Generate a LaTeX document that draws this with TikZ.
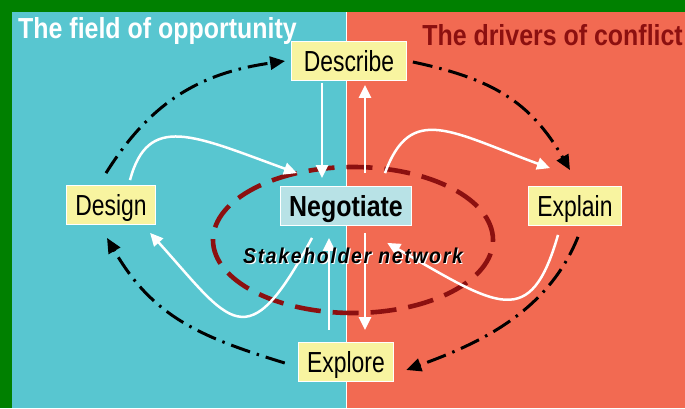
\documentclass[tikz,border=0pt]{standalone}
\usepackage{fontspec}
\setmainfont{Liberation Sans}
\newfontfamily\narrowfont{Liberation Sans}[FakeStretch=0.79]
\newfontfamily\headfont{Liberation Sans}[FakeStretch=0.86]
\newfontfamily\netfont{Liberation Sans}[FakeStretch=0.9, LetterSpace=8]
\usetikzlibrary{arrows.meta}
\definecolor{fieldbg}{RGB}{88,198,208}
\definecolor{conflictbg}{RGB}{242,106,82}
\definecolor{framegreen}{RGB}{0,128,0}
\definecolor{stepfill}{RGB}{248,244,160}
\definecolor{negfill}{RGB}{184,226,230}
\definecolor{netred}{RGB}{140,16,16}
\tikzset{
  stepbox/.style={draw=white, line width=.8pt, fill=stepfill, inner xsep=9pt, inner ysep=0pt,
    minimum height=39pt, text height=20pt, text depth=0pt, font=\narrowfont\fontsize{29}{32}\selectfont},
  title/.style={inner sep=0pt, font=\headfont\bfseries\fontsize{29}{32}\selectfont},
  nettext/.style={inner sep=0pt, anchor=base, font=\netfont\bfseries\itshape\fontsize{21.5}{24}\selectfont},
  ring/.style={netred, line width=4.6pt, dash pattern=on 26pt off 12pt},
  flow/.style={white, line width=2.5pt, -{Triangle[length=13pt,width=12pt]}},
  cycle/.style={black, line width=3pt, dash pattern=on 20pt off 7pt on 2.5pt off 7pt, -{Triangle[length=15pt,width=13pt]}}
}
\begin{document}
\begin{tikzpicture}[x=1pt, y=1pt]
\useasboundingbox (0,0) rectangle (685,408);
\fill[framegreen] (0,0) rectangle (685,408);
\fill[white] (12,0) rectangle (685,396);
\fill[fieldbg] (12,0) rectangle (346,396);
\fill[conflictbg] (347,0) rectangle (685,396);
\node[title, text=white, anchor=base west] (field) at (18,369) {The field of opportunity};
\node[title, text=netred, anchor=base east] (drivers) at (683,362) {The drivers of conflict};

\draw[ring] (353,168) ellipse [x radius=140pt, y radius=73pt];

\node[stepbox, minimum width=115pt] (describe) at (349,347) {Describe};
\node[stepbox] (design) at (111,203) {Design};
\node[stepbox, fill=negfill, font=\headfont\bfseries\fontsize{29}{32}\selectfont] (negotiate) at (346,202) {Negotiate};
\node[stepbox] (explain) at (575,202) {Explain};
\node[stepbox] (explore) at (346,46) {Explore};

\draw[cycle] ([xshift=-5pt,yshift=12pt]design.north) .. controls +(58:85) and +(188:85) .. ([xshift=-6pt]describe.west);
\draw[cycle] ([xshift=6pt,yshift=-1pt]describe.east) .. controls +(-12:80) and +(120:80) .. ([xshift=-5pt,yshift=16pt]explain.north);
\draw[cycle] ([xshift=3pt,yshift=-11pt]explain.south) .. controls +(-112:80) and +(20:80) .. ([xshift=12pt,yshift=-8pt]explore.east);
\draw[cycle] ([xshift=-13pt,yshift=-1pt]explore.west) .. controls +(163:90) and +(-60:90) .. ([xshift=-4pt,yshift=-13pt]design.south);

\draw[flow] ([xshift=-27pt,yshift=-2pt]describe.south) -- ([xshift=-24pt,yshift=8pt]negotiate.north);
\draw[flow] ([xshift=19pt,yshift=13pt]negotiate.north) -- ([xshift=16pt,yshift=-4pt]describe.south);
\draw[flow] ([xshift=19pt,yshift=-7pt]negotiate.south) -- ([xshift=19pt,yshift=12pt]explore.north);
\draw[flow] ([xshift=-17pt,yshift=12pt]explore.north) -- ([xshift=-17pt,yshift=-12pt]negotiate.south);
\draw[flow] ([xshift=19pt,yshift=5pt]design.north) .. controls +(75:70) and +(160:110) .. ([xshift=-49pt,yshift=13pt]negotiate.north);
\draw[flow] ([xshift=-34pt,yshift=-12pt]negotiate.south) .. controls +(-118:140) and +(-48:120) .. ([xshift=-6pt,yshift=-8pt]design.south east);
\draw[flow] ([xshift=39pt,yshift=13pt]negotiate.north) .. controls +(70:75) and +(160:105) .. ([xshift=-25pt,yshift=18pt]explain.north);
\draw[flow] ([xshift=-17pt,yshift=-9pt]explain.south) .. controls +(-106:100) and +(-30:128) .. ([xshift=-25pt,yshift=-17pt]negotiate.south east);

\node[nettext, white] (netshadow) at (354.2,143.8) {Stakeholder network};
\node[nettext] (network) at (353,145) {Stakeholder network};
\end{tikzpicture}
\end{document}
